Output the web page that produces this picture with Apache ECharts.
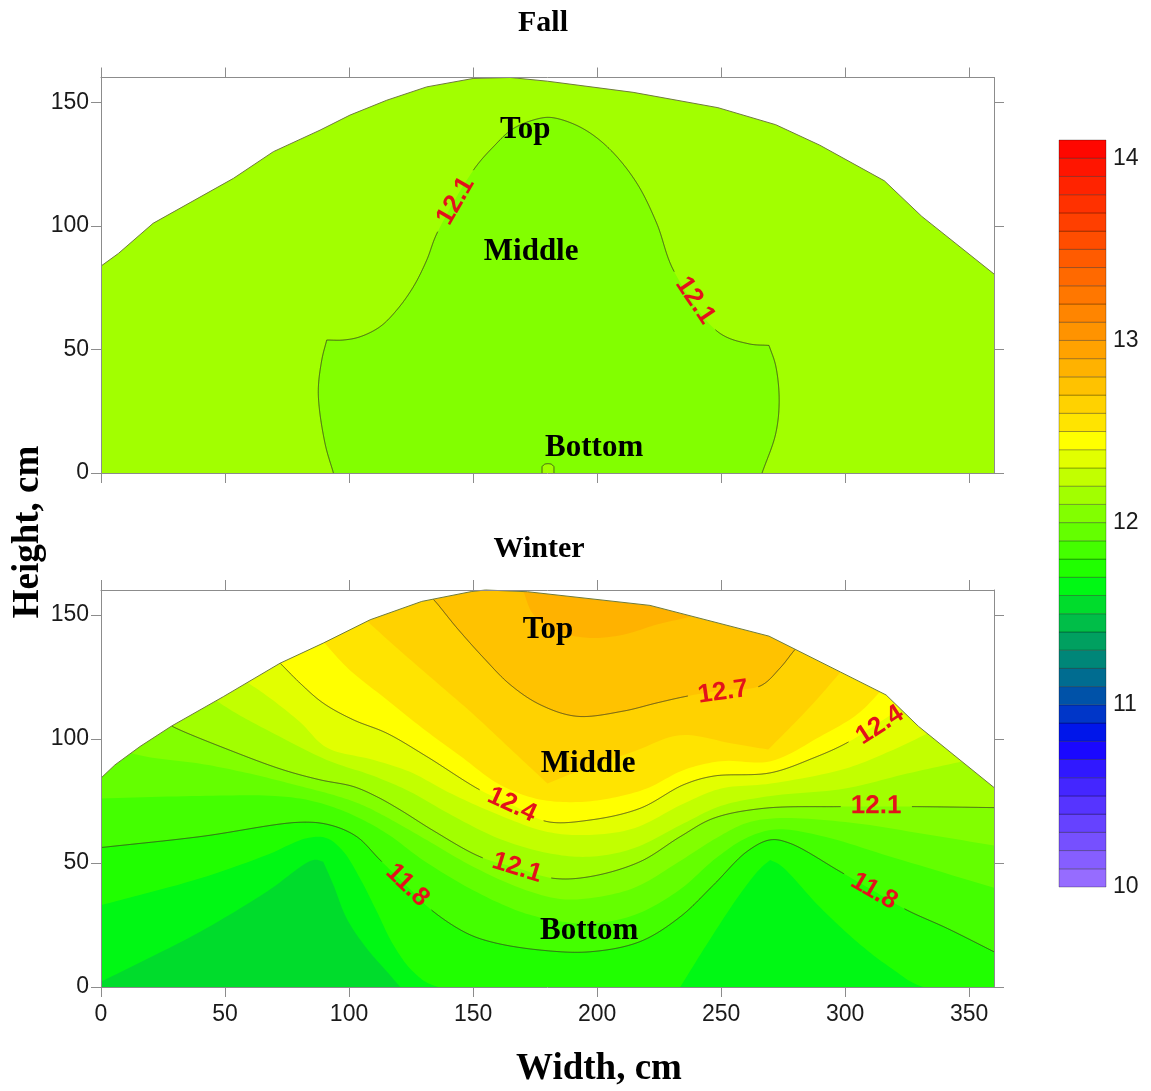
<!DOCTYPE html>
<html>
<head>
<meta charset="utf-8">
<script src="https://cdn.jsdelivr.net/npm/echarts@6/dist/echarts.min.js"></script>
<style>
  html, body { margin: 0; padding: 0; background: #fff; }
  #chart { width: 1151px; height: 1091px; }
</style>
</head>
<body>
<div id="chart"></div>
<script>
// ---------------- axes ----------------
const widthMin = 0, widthMax = 360;      // cm
const heightMin = 0, heightMax = 160;    // cm
const xTicks = [0, 50, 100, 150, 200, 250, 300, 350];
const yTicks = [0, 50, 100, 150];
const barTicks = [10, 11, 12, 13, 14];

// ---------------- colour scale (lower bound of each 0.1 band) ----------------
const bandLevels = [10.0, 10.1, 10.2, 10.3, 10.4, 10.5, 10.6, 10.7, 10.8, 10.9,
                    11.0, 11.1, 11.2, 11.3, 11.4, 11.5, 11.6, 11.7, 11.8, 11.9,
                    12.0, 12.1, 12.2, 12.3, 12.4, 12.5, 12.6, 12.7, 12.8, 12.9,
                    13.0, 13.1, 13.2, 13.3, 13.4, 13.5, 13.6, 13.7, 13.8, 13.9, 14.0];
const bandColors = ['#966cff', '#865eff', '#7650ff', '#6642ff', '#5634ff', '#4426ff', '#3018ff', '#1a08ff', '#0016ea', '#0036c8',
                    '#0052a8', '#006c90', '#008678', '#00a060', '#00be48', '#00dc2c', '#00f814', '#20ff00', '#44ff00', '#64ff00',
                    '#82ff00', '#a2ff00', '#c2ff00', '#e2ff00', '#ffff00', '#ffe400', '#ffd200', '#ffc200', '#ffb200', '#ffa200',
                    '#ff9300', '#ff8500', '#ff7700', '#ff6900', '#ff5b00', '#ff4d00', '#ff3f00', '#ff3100', '#ff2300', '#ff1500', '#ff0700'];

// ---------------- Fall ----------------
const fallDome = [[0, 83.7], [7, 88.8], [21, 101], [53.4, 119.2], [69.5, 130], [88.3, 138.7], [100.4, 144.8],
                  [115.2, 150.8], [131.3, 156.2], [150, 159.6], [165, 160], [180, 158.5], [214.5, 154],
                  [248.7, 147.8], [272, 140.9], [289.8, 132.6], [315.8, 118.2], [330.9, 103.8], [360, 80.5]];
const fallIso121 = [[93.7, 0], [90.3, 12], [87.6, 32.2], [89, 45.7], [91, 53.8], [97.7, 53.8], [104.4, 55.1],
                    [112.5, 59.2], [119.2, 65.9], [125.9, 75.3], [131.3, 86.1], [135.4, 96.9], [150.1, 122.5],
                    [158.2, 132], [166.3, 139.4], [177.5, 143.6], [183, 143.6], [194, 139.5], [204.8, 131.3],
                    [215.8, 117.6], [224, 101.1], [230.9, 81.8], [248.7, 57.1], [261, 52.3], [269.3, 51.6],
                    [272, 43.4], [273.4, 29.6], [272, 15.9], [266.5, 0]];
const fallNotch121 = [[177.8, 0], [177.8, 2.6], [179, 3.6], [181.4, 3.6], [182.6, 2.6], [182.6, 0]];
const fallLabelLevels = [12.1, 12.1];
const fallLabelAt = [[143, 110], [239.5, 69.8]];

// ---------------- Winter ----------------
const winterDome = [[0, 84.2], [5.6, 89.5], [15.7, 96.9], [28.5, 105.2], [49.3, 117], [72.2, 130.5], [89.6, 138.6],
                    [108.5, 148], [129.3, 155.4], [149.5, 159.4], [155, 160], [172, 159.3], [221.3, 153.8],
                    [269.3, 141.4], [298, 127], [316.5, 117.7], [329.5, 105.1], [360, 80.4]];
const winterIso116 = [[0, 2.1], [40, 22.3], [66.8, 38.4], [85.6, 51.2], [89.6, 50.5], [93.7, 41.1], [99, 27.7],
                      [107.1, 15.6], [116.5, 4.8], [120.6, 0], [360, 0]];
const winterIso117 = [[0, 33], [40, 43.8], [66.8, 53.2], [83, 60], [91, 60], [97.7, 54.6], [104.4, 43.8], [111.2, 30.4],
                      [117.9, 16.9], [126, 6], [136, 0], [233.5, 0], [246, 20], [258, 38], [266, 48], [269.8, 51.2],
                      [274, 49], [290, 32], [305, 18], [318, 8], [331.6, 0], [360, 0]];
const winterIso118 = [[0, 56.2], [39.9, 60.6], [80.2, 66.4], [92.3, 65.3], [103.1, 60.6], [112.5, 51.2], [124, 40],
                      [134, 30.4], [147.4, 21.7], [158, 18], [177, 14.9], [197.2, 14.2], [217.3, 18.3], [233.5, 28.3],
                      [246.9, 41.1], [260.4, 54.6], [269.8, 59.3], [277.8, 57.9], [298, 46.5], [311.7, 38.6],
                      [324.9, 31], [341, 23.7], [360, 14.2]];
const winterIso119 = [[0, 76], [40, 77], [70, 77], [85, 75], [100, 70], [115, 62], [130, 51], [150, 39], [170, 30],
                      [185, 26.5], [197, 25.5], [215, 29], [233, 39], [248, 52], [260, 60], [272, 63.5], [290, 61],
                      [320, 52], [360, 40]];
const winterIso120 = [[9, 95], [20, 92.5], [40, 90], [60, 86], [80, 81], [95, 77], [105, 73.5], [115, 68.5], [130, 60],
                      [150, 48.5], [170, 39.5], [185, 35.5], [197, 35.8], [215, 40], [233, 50.5], [248, 60], [260, 66],
                      [272, 68], [300, 66.5], [330, 62], [360, 57]];
const winterIso121 = [[26, 107], [28.5, 105.2], [53.3, 94.9], [73.5, 87.5], [88.3, 83.5], [101.7, 80.8], [111.2, 76.7],
                      [120.6, 71.4], [134, 63], [152.8, 52.5], [167.7, 48], [182.4, 43.8], [197.2, 44.5], [217.3, 50.5],
                      [233.5, 60.6], [246.9, 68], [267, 72], [298, 72.7], [327.5, 72.7], [360, 72.3]];
const winterIso122 = [[44, 117], [55, 110], [70, 102], [91, 91.5], [110, 85], [125, 78.5], [140, 70], [160, 60],
                      [180, 54], [197, 52.5], [215, 56], [235, 66], [250, 73], [270, 77], [300, 80], [325, 86], [350, 91.5]];
const winterIso123 = [[57, 124], [66, 118], [80, 107], [91, 96.5], [110, 91.5], [125, 86.5], [140, 78.5], [160, 69.5],
                      [180, 62.5], [197, 61.3], [215, 64], [235, 74], [250, 80], [270, 82], [300, 88], [318, 95], [336, 103.5]];
const winterIso124 = [[70, 132.5], [72.2, 130.5], [80.2, 122.5], [89.6, 114.4], [101.7, 107.7], [115.2, 102.3],
                      [131.3, 92.9], [152.8, 79.4], [165.7, 73.4], [179.7, 66.7], [197.2, 67.3], [217.3, 72],
                      [234.8, 81.5], [246.9, 85], [269.8, 86.3], [287.2, 92.3], [300.7, 98.4], [314, 106.8], [325, 114]];
const winterIso125 = [[88, 141], [100, 128], [115, 116], [130, 104], [145, 93], [160, 82], [175, 76], [190, 74.5],
                      [205, 76], [220, 80], [235, 87.5], [250, 91], [270, 91], [290, 101], [305, 110], [316, 121]];
const winterIso126 = [[105, 149.5], [120, 136], [135, 123], [150, 110], [165, 96], [180, 82], [195, 88], [215, 95],
                      [233.5, 101.5], [255, 98], [269, 95.7], [285, 112], [300, 129]];
const winterIso127 = [[132, 157.8], [134, 156.2], [143.4, 144.8], [154.2, 132.7], [164.9, 121.9], [177, 113.8],
                      [191.8, 109.1], [210.6, 111.2], [224.1, 114.5], [236.2, 117.2], [250.8, 119.6], [265.7, 121.3],
                      [273.8, 128.6], [279.8, 136], [283, 139]];
const winterIso128 = [[169, 160], [170.2, 159.6], [174.3, 150.1], [183.7, 143.4], [197.2, 140.7], [210.6, 142],
                      [224.1, 146.1], [238, 149.5], [242, 151.5]];
const winterLabelLevels = [11.8, 11.8, 12.1, 12.1, 12.4, 12.4, 12.7];
const winterLabelAt = [[123.5, 41], [311.7, 38.6], [167.7, 48], [312.5, 72.9], [165.7, 73.4], [314, 105.5], [250.8, 118.8]];

// zone captions
const zoneNames = ['Top', 'Middle', 'Bottom'];
const fallZoneAt = [[171, 138.7], [173.4, 89.4], [198.8, 10.1]];
const winterZoneAt = [[180.2, 144], [196.4, 90], [196.8, 22.6]];

// ---------------- panel definitions ----------------
// each region is the part of the field above (or, when "below", under) an isoline
const fallRegions = [
  { level: 12.1, pts: [[widthMin, heightMin], [widthMax, heightMin]] },
  { level: 12.1, pts: fallIso121, below: true, closed: true },
  { level: 12.1, pts: fallNotch121, closed: true }
];
const fallLines = [
  { level: 12.1, pts: fallIso121 },
  { level: 12.1, pts: fallNotch121 }
];
const winterRegions = [
  { level: 11.5, pts: [[widthMin, heightMin], [widthMax, heightMin]] },
  { level: 11.6, pts: winterIso116 },
  { level: 11.7, pts: winterIso117 },
  { level: 11.8, pts: winterIso118 },
  { level: 11.9, pts: winterIso119 },
  { level: 12.0, pts: winterIso120 },
  { level: 12.1, pts: winterIso121 },
  { level: 12.2, pts: winterIso122 },
  { level: 12.3, pts: winterIso123 },
  { level: 12.4, pts: winterIso124 },
  { level: 12.5, pts: winterIso125 },
  { level: 12.6, pts: winterIso126 },
  { level: 12.7, pts: winterIso127 },
  { level: 12.8, pts: winterIso128 }
];
const winterLines = [
  { level: 11.8, pts: winterIso118 },
  { level: 12.1, pts: winterIso121 },
  { level: 12.4, pts: winterIso124 },
  { level: 12.7, pts: winterIso127 }
];

// ---------------- styling ----------------
const frameColor = '#8c8c8c';
const lineColor = 'rgba(50,50,35,0.8)';
const domeColor = '#6f7b3c';
const labelColor = '#e3121b';
const sans = '"Liberation Sans", Arial, sans-serif';
const serif = '"Liberation Serif", "Times New Roman", serif';
const contourFont = 'bold 26px ' + sans;
const zoneFont = 'bold 31px ' + serif;

function bandColor(level) {
  const i = Math.round((level - bandLevels[0]) * 10);
  return bandColors[Math.max(0, Math.min(bandColors.length - 1, i))];
}

const measureCtx = document.createElement('canvas').getContext('2d');
function textWidth(text, font) {
  measureCtx.font = font;
  return measureCtx.measureText(text).width;
}

// centripetal Catmull-Rom drawing of an isoline; sharp corners are kept as corners
function smoothPath(px) {
  if (px.length < 3) return px.slice();
  const pieces = [];
  let cur = [px[0]];
  for (let i = 1; i < px.length - 1; i++) {
    cur.push(px[i]);
    const a1 = Math.atan2(px[i][1] - px[i - 1][1], px[i][0] - px[i - 1][0]);
    const a2 = Math.atan2(px[i + 1][1] - px[i][1], px[i + 1][0] - px[i][0]);
    let d = Math.abs(a2 - a1);
    if (d > Math.PI) d = 2 * Math.PI - d;
    if (d > Math.PI / 4) { pieces.push(cur); cur = [px[i]]; }
  }
  cur.push(px[px.length - 1]);
  pieces.push(cur);

  const out = [];
  const lerp = (p, q, ta, tb, t) => {
    const w = tb - ta;
    if (w < 1e-6) return p.slice();
    return [(tb - t) / w * p[0] + (t - ta) / w * q[0], (tb - t) / w * p[1] + (t - ta) / w * q[1]];
  };
  const knot = (p, q) => Math.pow(Math.hypot(q[0] - p[0], q[1] - p[1]), 0.5) || 1e-3;
  pieces.forEach(pc => {
    if (pc.length < 3) {
      pc.forEach(p => out.push(p));
      return;
    }
    for (let i = 0; i < pc.length - 1; i++) {
      const p1 = pc[i], p2 = pc[i + 1];
      const p0 = pc[i - 1] || [2 * p1[0] - p2[0], 2 * p1[1] - p2[1]];
      const p3 = pc[i + 2] || [2 * p2[0] - p1[0], 2 * p2[1] - p1[1]];
      const t0 = 0, t1 = t0 + knot(p0, p1), t2 = t1 + knot(p1, p2), t3 = t2 + knot(p2, p3);
      const steps = 12;
      for (let s = 0; s <= steps; s++) {
        const t = t1 + (t2 - t1) * s / steps;
        const A1 = lerp(p0, p1, t0, t1, t), A2 = lerp(p1, p2, t1, t2, t), A3 = lerp(p2, p3, t2, t3, t);
        const B1 = lerp(A1, A2, t0, t2, t), B2 = lerp(A2, A3, t1, t3, t);
        out.push(lerp(B1, B2, t1, t2, t));
      }
    }
  });
  return out;
}

// split a pixel polyline, leaving gaps around the label centres
function cutAround(px, holes) {
  const runs = [];
  let cur = [];
  const inside = p => holes.some(h => (p[0] - h.c[0]) ** 2 + (p[1] - h.c[1]) ** 2 < h.r * h.r);
  for (let i = 0; i < px.length - 1; i++) {
    const a = px[i], b = px[i + 1];
    const n = Math.max(1, Math.ceil(Math.hypot(b[0] - a[0], b[1] - a[1]) / 0.5));
    for (let k = (i === 0 ? 0 : 1); k <= n; k++) {
      const t = k / n;
      const p = [a[0] + (b[0] - a[0]) * t, a[1] + (b[1] - a[1]) * t];
      if (inside(p)) {
        if (cur.length > 1) runs.push(cur);
        cur = [];
      } else {
        cur.push(p);
      }
    }
  }
  if (cur.length > 1) runs.push(cur);
  return runs;
}

// direction of the nearest segment, kept upright
function nearestSegment(px, c) {
  let best = Infinity, ang = 0;
  for (let i = 0; i < px.length - 1; i++) {
    const a = px[i], b = px[i + 1];
    const dx = b[0] - a[0], dy = b[1] - a[1];
    const l2 = dx * dx + dy * dy;
    if (l2 < 1e-9) continue;
    let t = ((c[0] - a[0]) * dx + (c[1] - a[1]) * dy) / l2;
    t = Math.max(0, Math.min(1, t));
    const d = Math.hypot(a[0] + dx * t - c[0], a[1] + dy * t - c[1]);
    if (d < best) { best = d; ang = Math.atan2(-dy, dx); }
  }
  if (ang > Math.PI / 2) ang -= Math.PI;
  if (ang <= -Math.PI / 2) ang += Math.PI;
  return { dist: best, ang };
}

function panelSeries(axisIdx, regions, lines, dome, labelLevels, labelAt, zoneAt) {
  const base = { type: 'custom', xAxisIndex: axisIdx, yAxisIndex: axisIdx, silent: true, animation: false };
  const labels = labelLevels.map((lv, i) => ({ level: lv, at: labelAt[i] }));
  return [
    Object.assign({}, base, {
      name: 'bands', z: 1, clip: true,
      data: regions.map((r, i) => [i, r.level]),
      renderItem(params, api) {
        const r = regions[params.dataIndex];
        const pts = smoothPath(r.pts.map(p => api.coord(p)));
        if (!r.closed) {
          const first = r.pts[0], last = r.pts[r.pts.length - 1];
          pts.push(api.coord([last[0], heightMax]), api.coord([first[0], heightMax]));
        }
        return { type: 'polygon', shape: { points: pts },
                 style: { fill: bandColor(r.below ? r.level - 0.1 : r.level), stroke: null } };
      }
    }),
    Object.assign({}, base, {
      name: 'isolines', z: 2, clip: true,
      data: lines.map((l, i) => [i, l.level]),
      renderItem(params, api) {
        const l = lines[params.dataIndex];
        const px = smoothPath(l.pts.map(p => api.coord(p)));
        const holes = labels.filter(lb => lb.level === l.level).map(lb => ({
          c: api.coord(lb.at),
          r: textWidth(lb.level.toFixed(1), contourFont) / 2 + 10
        }));
        const runs = cutAround(px, holes);
        return { type: 'group', children: runs.map(run => ({
          type: 'polyline', shape: { points: run },
          style: { stroke: lineColor, lineWidth: 1, fill: null }
        })) };
      }
    }),
    Object.assign({}, base, {
      name: 'outside', z: 3,
      data: [[0, 0]],
      renderItem(params, api) {
        const pts = dome.map(p => api.coord(p));
        pts.push(api.coord([widthMax, heightMax]), api.coord([widthMin, heightMax]));
        return { type: 'polygon', shape: { points: pts }, style: { fill: '#ffffff', stroke: null } };
      }
    }),
    Object.assign({}, base, {
      name: 'outline', z: 4,
      data: [[0, 0]],
      renderItem(params, api) {
        return { type: 'polyline', shape: { points: dome.map(p => api.coord(p)) },
                 style: { stroke: domeColor, lineWidth: 1, fill: null } };
      }
    }),
    Object.assign({}, base, {
      name: 'values', z: 5,
      data: labels.map(lb => [lb.at[0], lb.at[1], lb.level]),
      renderItem(params, api) {
        const lb = labels[params.dataIndex];
        const c = api.coord(lb.at);
        let best = null;
        lines.filter(l => l.level === lb.level).forEach(l => {
          const s = nearestSegment(smoothPath(l.pts.map(p => api.coord(p))), c);
          if (!best || s.dist < best.dist) best = s;
        });
        return { type: 'text', x: c[0], y: c[1], rotation: best ? best.ang : 0,
                 style: { text: lb.level.toFixed(1), fill: labelColor, font: contourFont,
                          textAlign: 'center', textVerticalAlign: 'middle', align: 'center', verticalAlign: 'middle' } };
      }
    }),
    Object.assign({}, base, {
      name: 'zones', z: 6,
      data: zoneAt.map(p => [p[0], p[1]]),
      renderItem(params, api) {
        const c = api.coord(zoneAt[params.dataIndex]);
        return { type: 'text', x: c[0], y: c[1],
                 style: { text: zoneNames[params.dataIndex], fill: '#000', font: zoneFont,
                          textAlign: 'center', textVerticalAlign: 'middle', align: 'center', verticalAlign: 'middle' } };
      }
    })
  ];
}

// ---------------- axes builders ----------------
function frameX(gridIndex, position, labels) {
  return {
    gridIndex, type: 'value', position, min: widthMin, max: widthMax, interval: 50, z: 10,
    axisLine: { show: true, onZero: false, lineStyle: { color: frameColor, width: 1 } },
    axisTick: { show: true, length: 10, customValues: xTicks, lineStyle: { color: frameColor } },
    axisLabel: { show: labels, customValues: xTicks, fontSize: 23, margin: 16,
                 color: '#1a1a1a', fontFamily: sans },
    splitLine: { show: false }
  };
}
function frameY(gridIndex, position, labels) {
  return {
    gridIndex, type: 'value', position, min: heightMin, max: heightMax, interval: 50, z: 10,
    axisLine: { show: true, onZero: false, lineStyle: { color: frameColor, width: 1 } },
    axisTick: { show: true, length: 10, customValues: yTicks, lineStyle: { color: frameColor } },
    axisLabel: { show: labels, customValues: yTicks, fontSize: 23, margin: 12,
                 color: '#1a1a1a', fontFamily: sans },
    splitLine: { show: false }
  };
}

const chart = echarts.init(document.getElementById('chart'), null, { renderer: 'canvas' });

const option = {
  backgroundColor: '#ffffff',
  animation: false,
  grid: [
    { left: 101, top: 77.5, width: 893, height: 395.5 },
    { left: 101, top: 590, width: 893, height: 397 },
    { left: 1059, top: 140, width: 47, height: 747 }
  ],
  xAxis: [
    frameX(0, 'bottom', false), frameX(0, 'top', false),
    frameX(1, 'bottom', true), frameX(1, 'top', false),
    { gridIndex: 2, type: 'value', min: 0, max: 1, show: false }
  ],
  yAxis: [
    frameY(0, 'left', true), frameY(0, 'right', false),
    frameY(1, 'left', true), frameY(1, 'right', false),
    {
      gridIndex: 2, type: 'value', position: 'right', min: 10, max: 14.1, interval: 1,
      axisLine: { show: false }, axisTick: { show: false }, splitLine: { show: false },
      axisLabel: { customValues: barTicks, fontSize: 23, margin: 7,
                   color: '#1a1a1a', fontFamily: sans }
    }
  ],
  series: [
    ...panelSeries(0, fallRegions, fallLines, fallDome, fallLabelLevels, fallLabelAt, fallZoneAt),
    ...panelSeries(2, winterRegions, winterLines, winterDome, winterLabelLevels, winterLabelAt, winterZoneAt),
    {
      type: 'custom', name: 'scale', xAxisIndex: 4, yAxisIndex: 4, silent: true, animation: false,
      data: bandLevels.map((v, i) => [i, v]),
      renderItem(params, api) {
        const lo = api.value(1);
        const p1 = api.coord([0, lo + 0.1]);
        const p2 = api.coord([1, lo]);
        return { type: 'rect', shape: { x: p1[0], y: p1[1], width: p2[0] - p1[0], height: p2[1] - p1[1] },
                 style: { fill: bandColors[params.dataIndex], stroke: 'rgba(0,0,0,0.28)', lineWidth: 1 } };
      }
    }
  ],
  graphic: [
    { type: 'text', x: 543, y: 23, style: { text: 'Fall', font: 'bold 30px ' + serif, fill: '#000',
      textAlign: 'center', textVerticalAlign: 'middle', align: 'center', verticalAlign: 'middle' } },
    { type: 'text', x: 539, y: 549, style: { text: 'Winter', font: 'bold 30px ' + serif, fill: '#000',
      textAlign: 'center', textVerticalAlign: 'middle', align: 'center', verticalAlign: 'middle' } },
    { type: 'text', x: 28, y: 532, rotation: Math.PI / 2, style: { text: 'Height, cm', font: 'bold 37px ' + serif, fill: '#000',
      textAlign: 'center', textVerticalAlign: 'middle', align: 'center', verticalAlign: 'middle' } },
    { type: 'text', x: 599, y: 1069, style: { text: 'Width, cm', font: 'bold 37px ' + serif, fill: '#000',
      textAlign: 'center', textVerticalAlign: 'middle', align: 'center', verticalAlign: 'middle' } }
  ]
};

chart.setOption(option);
</script>
</body>
</html>
